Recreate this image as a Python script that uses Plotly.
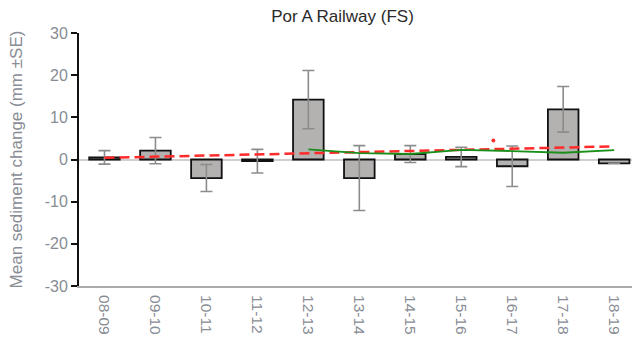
import plotly.graph_objects as go

categories = ["08-09", "09-10", "10-11", "11-12", "12-13", "13-14",
              "14-15", "15-16", "16-17", "17-18", "18-19"]
mean_change = [0.5, 2.1, -4.4, -0.4, 14.2, -4.4, 1.3, 0.6, -1.6, 11.9, -0.9]
std_error = [1.6, 3.1, 3.2, 2.8, 6.9, 7.7, 2.0, 2.3, 4.8, 5.4, 0.0]

y_ticks = [-30, -20, -10, 0, 10, 20, 30]
y_tick_labels = ["-30", "-20", "-10", "0", "10", "20", "30"]

# linear trend (red dashed), endpoints
trend_x = ["08-09", "18-19"]
trend_y = [0.4, 3.1]

# 5-period moving average (green)
mavg_x = ["12-13", "13-14", "14-15", "15-16", "16-17", "17-18", "18-19"]
mavg_y = [2.4, 1.5, 1.3, 2.3, 2.0, 1.6, 2.2]

# stray red point
dot_pos = [7.63]
dot_y = [4.5]

idx = {c: i for i, c in enumerate(categories)}
xs = list(range(len(categories)))

label_color = "#888c94"
font = "Liberation Sans, Arial, sans-serif"

fig = go.Figure()
fig.add_trace(go.Bar(
    x=xs, y=mean_change, width=0.6,
    marker=dict(color="#b4b1b1", line=dict(color="#111111", width=1.8)),
    error_y=dict(type="data", array=std_error, visible=True,
                 color="#8c8c8c", thickness=1.6, width=6),
    showlegend=False,
))
fig.add_trace(go.Scatter(
    x=[idx[c] for c in trend_x], y=trend_y, mode="lines",
    line=dict(color="#ff2a2a", width=2.5, dash="10px,5px"), showlegend=False,
))
fig.add_trace(go.Scatter(
    x=[idx[c] for c in mavg_x], y=mavg_y, mode="lines",
    line=dict(color="#1a8f1a", width=1.8), showlegend=False,
))
fig.add_trace(go.Scatter(
    x=dot_pos, y=dot_y, mode="markers",
    marker=dict(color="#ff3030", size=4), showlegend=False,
))

fig.update_layout(
    width=632, height=346,
    margin=dict(l=79, r=0, t=33, b=60, autoexpand=False),
    paper_bgcolor="white", plot_bgcolor="white",
    title=dict(text="Por A Railway (FS)", xref="container", x=342.5 / 632,
               xanchor="center", yref="container", y=1 - 16.5 / 346,
               yanchor="middle",
               font=dict(family=font, size=17, color="#2a2a2a")),
    font=dict(family=font),
)
fig.update_xaxes(
    range=[-0.5, 10.35], tickmode="array", tickvals=xs, ticktext=categories,
    tickangle=90, tickfont=dict(size=15.5, color=label_color),
    showgrid=False, zeroline=False, automargin=False,
    showline=True, linecolor="#aaaaaa", linewidth=2,
    ticks="outside", ticklen=4, tickcolor="rgba(0,0,0,0)",
)
fig.update_yaxes(
    range=[-30, 30], tickmode="array", tickvals=y_ticks,
    ticktext=y_tick_labels, automargin=False,
    tickfont=dict(size=16, color=label_color),
    showgrid=False, zeroline=True, zerolinecolor="#cfcfcf", zerolinewidth=2,
    showline=True, linecolor="#111111", linewidth=2,
    ticks="outside", ticklen=6, tickcolor="#111111", tickwidth=2,
    title=dict(text="Mean sediment change (mm ±SE)", standoff=18,
               font=dict(size=17, color=label_color)),
)

fig.write_html("out.html", config={"displayModeBar": False},
               post_script="document.body.style.margin='0';")
